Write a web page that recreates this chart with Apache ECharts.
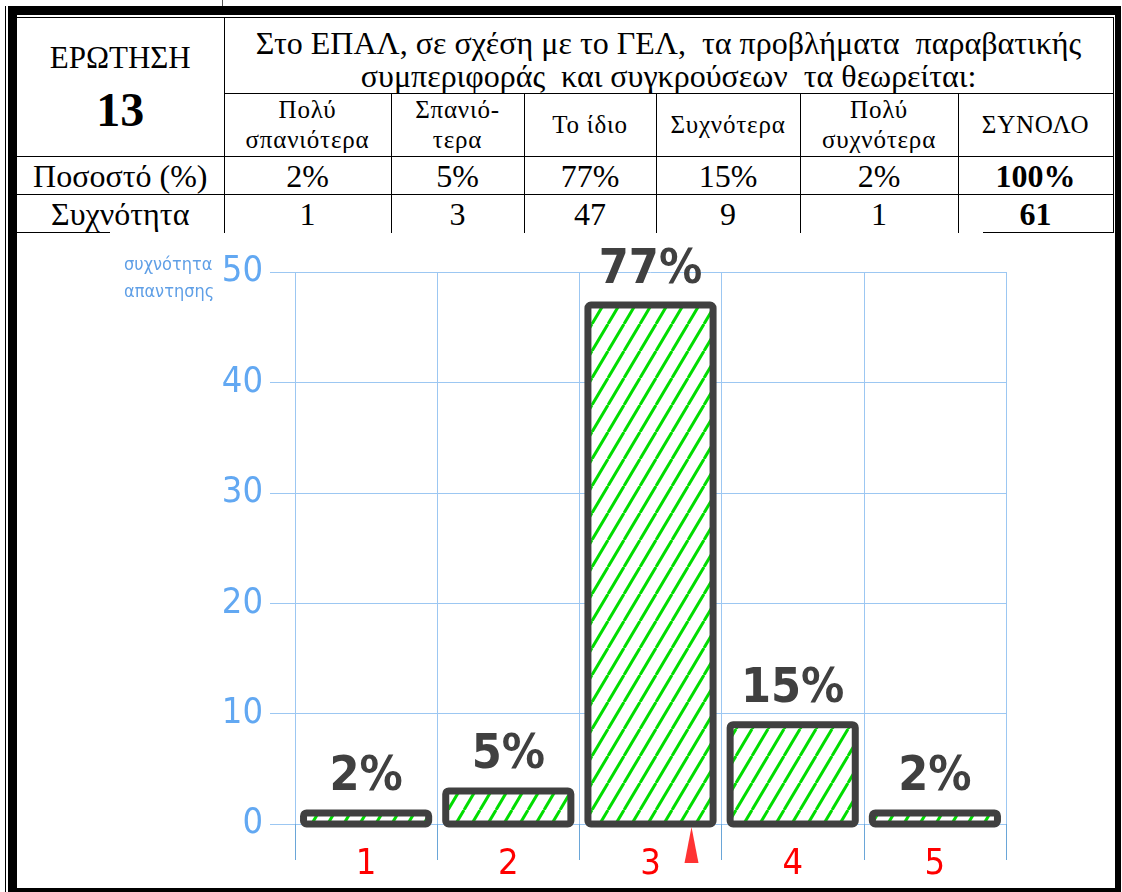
<!DOCTYPE html>
<html>
<head>
<meta charset="utf-8">
<script src="https://cdn.jsdelivr.net/npm/echarts@6/dist/echarts.min.js"></script>
<style>
  html, body { margin: 0; padding: 0; background: #fff; }
  body { width: 1122px; height: 892px; position: relative; overflow: hidden; }
  #chart { position: absolute; left: 0; top: 0; width: 1122px; height: 892px; }
  .abs { position: absolute; }
  #frame { left: 8px; top: 6px; width: 1113px; height: 886px; box-sizing: border-box;
           border-top: 9px solid #000; border-left: 9px solid #000; border-right: 6px solid #000; border-bottom: 4px solid #000; }
  #outerThin { left: 5px; top: 6px; width: 1px; height: 886px; background: #000; }
  #topTick { left: 222px; top: 0; width: 1px; height: 6px; background: #555; }
  table { position: absolute; left: 17px; top: 17px; width: 1096px; border-collapse: collapse; table-layout: fixed;
          font-family: 'Liberation Serif', 'DejaVu Serif', serif; color: #000; background: #fff; }
  td { border: 1px solid #000; text-align: center; padding: 0; overflow: hidden; white-space: nowrap; }
  td.first { border-left: none; }
  tr.last td { border-bottom: none; }
  .q1 { font-size: 31px; line-height: 34px; }
  .q2 { font-size: 48px; font-weight: bold; line-height: 50px; margin-top: 10px; }
  .head { font-size: 32px; line-height: 33px; vertical-align: bottom; }
  .cat { font-size: 25px; line-height: 30px; letter-spacing: 0.8px; }
  .val { font-size: 32px; line-height: 36px; }
  .bold { font-weight: bold; }
  .uline { height: 1px; background: #000; top: 232px; }
</style>
</head>
<body>
<div id="chart"></div>
<div id="outerThin" class="abs"></div>
<div id="topTick" class="abs"></div>
<div id="frame" class="abs"></div>
<table id="tbl"></table>
<div class="abs uline" style="left:17px;width:93px;"></div>
<div class="abs uline" style="left:983px;width:130px;"></div>
<script>
// table texts
var questionLabel = 'ΕΡΩΤΗΣΗ';
var questionNumber = '13';
var questionText = 'Στο ΕΠΑΛ, σε σχέση με το ΓΕΛ,&nbsp; τα προβλήματα&nbsp; παραβατικής<br>συμπεριφοράς&nbsp; και συγκρούσεων&nbsp; τα θεωρείται:';
var answerNames = ['Πολύ<br>σπανιότερα', 'Σπανιό-<br>τερα', 'Το ίδιο', 'Συχνότερα', 'Πολύ<br>συχνότερα'];
var totalName = 'ΣΥΝΟΛΟ';
var percentRowName = 'Ποσοστό (%)';
var freqRowName = 'Συχνότητα';
var percents = [2, 5, 77, 15, 2];
var percentTotal = 100;
var frequencies = [1, 3, 47, 9, 1];
var frequencyTotal = 61;

// chart
var categories = ['1', '2', '3', '4', '5'];
var barLabels = ['2%', '5%', '77%', '15%', '2%'];
var yName = 'συχνότητα\nαπαντησης';
var yMin = 0, yMax = 50, yStep = 10;
var markerCategory = '3';

var colWidths = [207, 167, 133, 132, 144, 158, 155];
var html = '<colgroup>';
colWidths.forEach(function (w) { html += '<col style="width:' + w + 'px">'; });
html += '</colgroup>';
html += '<tr style="height:76px"><td class="first" rowspan="2" style="vertical-align:top;padding-top:23px"><div class="q1">' + questionLabel +
    '</div><div class="q2">' + questionNumber + '</div></td><td class="head" colspan="6">' + questionText + '</td></tr>';
html += '<tr style="height:63px">';
answerNames.forEach(function (n) { html += '<td class="cat">' + n + '</td>'; });
html += '<td class="cat">' + totalName + '</td></tr>';
html += '<tr style="height:38px"><td class="first val">' + percentRowName + '</td>';
percents.forEach(function (p) { html += '<td class="val">' + p + '%</td>'; });
html += '<td class="val bold">' + percentTotal + '%</td></tr>';
html += '<tr class="last" style="height:38px"><td class="first val">' + freqRowName + '</td>';
frequencies.forEach(function (f) { html += '<td class="val">' + f + '</td>'; });
html += '<td class="val bold">' + frequencyTotal + '</td></tr>';
document.getElementById('tbl').innerHTML = html;

// green diagonal hatch used as bar fill
function makeHatch() {
    var w = 16, h = 27;
    var c = document.createElement('canvas');
    c.width = w; c.height = h;
    var ctx = c.getContext('2d');
    ctx.fillStyle = '#ffffff';
    ctx.fillRect(0, 0, w, h);
    ctx.strokeStyle = '#00dd00';
    ctx.lineWidth = 3;
    for (var k = -1; k <= 1; k++) {
        ctx.beginPath();
        ctx.moveTo(k * w, h);
        ctx.lineTo((k + 1) * w, 0);
        ctx.stroke();
    }
    return c;
}
var hatch = makeHatch();

var cond = "'DejaVu Sans Condensed', 'DejaVu Sans', sans-serif";
var gridBlue = '#9cc7f2';
var chart = echarts.init(document.getElementById('chart'));
chart.setOption({
    animation: false,
    grid: { left: 295, right: 116, top: 272, bottom: 68 },
    graphic: [{
        type: 'text', left: 124, top: 252,
        style: { text: yName, fill: '#5f9fe6', fontSize: 18, fontFamily: cond, lineHeight: 27 }
    }],
    xAxis: {
        type: 'category',
        data: categories,
        axisLine: { show: true, lineStyle: { color: gridBlue } },
        axisTick: { show: true, length: 36, interval: 0, lineStyle: { color: '#6aa6d8' } },
        splitLine: { show: true, interval: 0, lineStyle: { color: gridBlue } },
        axisLabel: { color: '#ff0000', fontSize: 36, fontFamily: cond, margin: 23 }
    },
    yAxis: {
        type: 'value',
        min: yMin, max: yMax, interval: yStep,
        axisLine: { show: false },
        axisTick: { show: true, length: 25, lineStyle: { color: gridBlue } },
        splitLine: { show: true, lineStyle: { color: gridBlue } },
        axisLabel: { color: '#62a8f2', fontSize: 36, fontFamily: cond, margin: 32 }
    },
    series: [{
        type: 'custom',
        data: frequencies.map(function (v, i) { return [i, v]; }),
        renderItem: function (params, api) {
            var top = api.coord([api.value(0), api.value(1)]);
            var base = api.coord([api.value(0), 0]);
            var w = api.size([1, 0])[0] * 0.88;
            return {
                type: 'group',
                children: [{
                    type: 'rect',
                    shape: { x: top[0] - w / 2, y: top[1], width: w, height: base[1] - top[1], r: 3 },
                    style: { fill: { image: hatch, repeat: 'repeat' }, stroke: '#404040', lineWidth: 7 }
                }, {
                    type: 'text',
                    x: top[0], y: top[1] - 11,
                    style: {
                        text: barLabels[params.dataIndex], fill: '#404040',
                        fontSize: 48, fontWeight: 'bold', fontFamily: cond,
                        align: 'center', verticalAlign: 'bottom'
                    }
                }]
            };
        }
    }, {
        type: 'scatter',
        silent: true,
        data: [[markerCategory, 0]],
        symbol: 'triangle',
        symbolSize: [14, 36],
        symbolOffset: [41, 21],
        itemStyle: { color: '#ff0000' },
        z: 5
    }]
});
</script>
</body>
</html>
